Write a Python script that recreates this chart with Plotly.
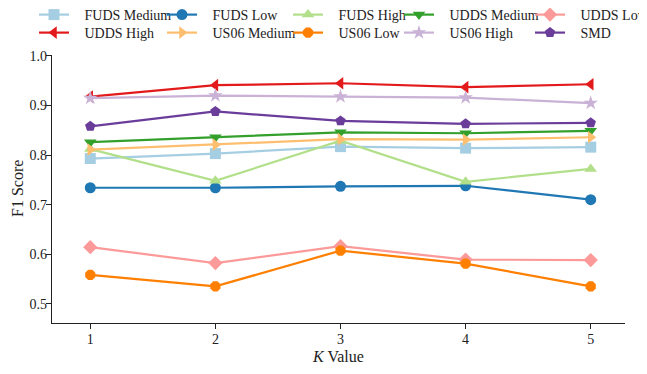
import plotly.graph_objects as go

k_values = [1, 2, 3, 4, 5]

fuds_medium = [0.793, 0.803, 0.817, 0.814, 0.816]
fuds_low = [0.734, 0.734, 0.737, 0.738, 0.710]
fuds_high = [0.812, 0.748, 0.829, 0.746, 0.772]
udds_medium = [0.826, 0.836, 0.846, 0.844, 0.849]
udds_low = [0.614, 0.582, 0.616, 0.589, 0.588]
udds_high = [0.918, 0.941, 0.945, 0.937, 0.943]
us06_medium = [0.811, 0.821, 0.832, 0.831, 0.836]
us06_low = [0.558, 0.535, 0.607, 0.581, 0.535]
us06_high = [0.915, 0.920, 0.918, 0.916, 0.905]
smd = [0.858, 0.888, 0.869, 0.863, 0.865]

y_ticks = [0.5, 0.6, 0.7, 0.8, 0.9, 1.0]

series = [
    ("FUDS Medium", fuds_medium, "#a6cee3", "square"),
    ("FUDS Low", fuds_low, "#1f78b4", "circle"),
    ("FUDS High", fuds_high, "#b2df8a", "triangle-up"),
    ("UDDS Medium", udds_medium, "#33a02c", "triangle-down"),
    ("UDDS Low", udds_low, "#fb9a99", "diamond"),
    ("UDDS High", udds_high, "#e31a1c", "triangle-left"),
    ("US06 Medium", us06_medium, "#fdbf6f", "triangle-right"),
    ("US06 Low", us06_low, "#ff7f00", "octagon"),
    ("US06 High", us06_high, "#cab2d6", "star"),
    ("SMD", smd, "#6a3d9a", "pentagon"),
]

font_family = "Liberation Serif, Times New Roman, serif"
W, H = 647, 374
OFF = 8  # page body margin offset of the figure div
# legend slots: symbol-centre x of the 5 columns and the 2 row centres (page px)
col_x = [54, 182, 308, 419, 550]
row_y = [15, 33]
PAD = "\u00a0\u00a0\u00a0"

fig = go.Figure()
legends = {}
for i, (name, vals, color, sym) in enumerate(series):
    key = "legend" if i == 0 else f"legend{i+1}"
    fig.add_trace(go.Scatter(
        x=k_values, y=vals, name=PAD + name, mode="lines+markers",
        line=dict(color=color, width=2.2),
        marker=dict(symbol=sym, size=11, color=color, line=dict(width=0)),
        legend=key,
    ))
    cx = col_x[i % 5] - OFF
    cy = row_y[i // 5] - OFF
    legends[key] = dict(
        x=(cx - 20) / W, y=1 - cy / H,
        xref="container", yref="container", xanchor="left", yanchor="middle",
        orientation="v", font=dict(family=font_family, size=14, color="#222"),
        bgcolor="rgba(0,0,0,0)", borderwidth=0,
    )

fig.update_layout(
    width=W, height=H,
    margin=dict(l=52 - OFF, r=W - (625 - OFF), t=55 - OFF, b=H - (323 - OFF), autoexpand=False),
    paper_bgcolor="white", plot_bgcolor="white",
    font=dict(family=font_family, size=14, color="#222"),
    showlegend=True,
    xaxis=dict(
        range=[0.694, 5.274], tickvals=k_values, ticktext=[str(k) for k in k_values],
        showline=True, linecolor="#222", linewidth=1.3, ticks="outside", ticklen=5,
        tickcolor="#222", showgrid=False, zeroline=False, ticklabelstandoff=-2,
        title=dict(text="<i>K</i> Value", font=dict(size=16), standoff=4),
    ),
    yaxis=dict(
        range=[0.461, 1.002], tickvals=y_ticks, tickformat=".1f",
        showline=True, linecolor="#222", linewidth=1.3, ticks="outside", ticklen=5,
        tickcolor="#222", showgrid=False, zeroline=False, ticklabelstandoff=-4,
    ),
    annotations=[dict(
        text="F1 Score", textangle=-90, xref="paper", yref="paper",
        x=0, y=0.5, xanchor="center", yanchor="middle", xshift=-35,
        showarrow=False, borderpad=0,
        font=dict(family=font_family, size=16, color="#222"),
    )],
    **legends,
)

fig.write_html("out.html")
